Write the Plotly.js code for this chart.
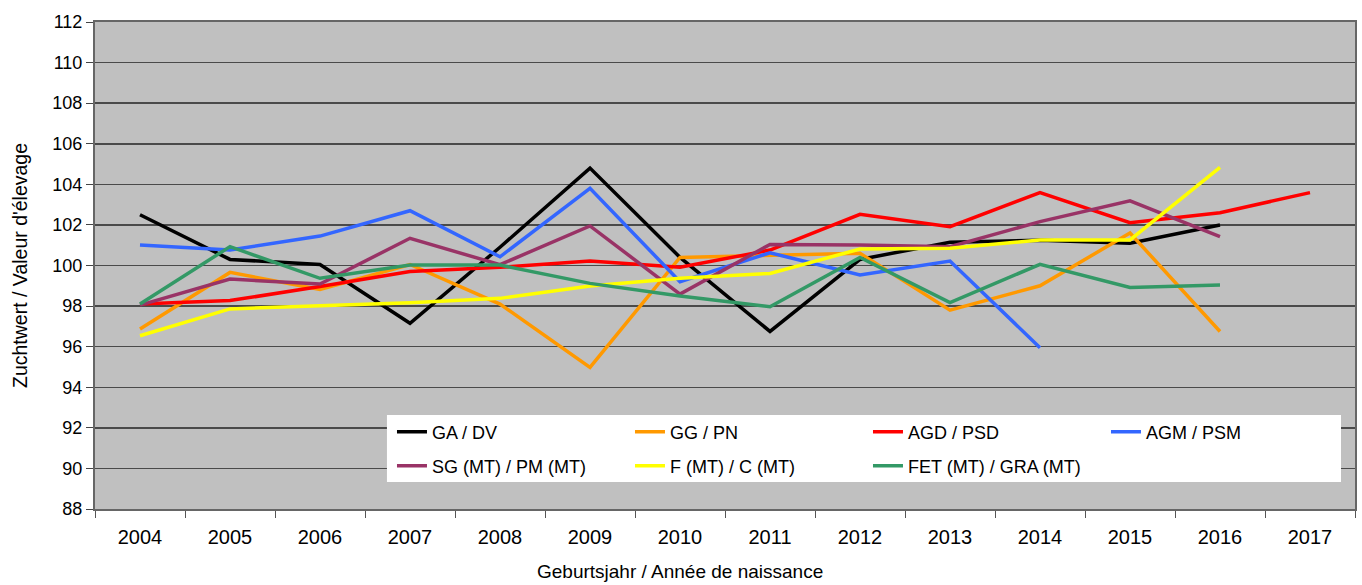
<!DOCTYPE html>
<html><head><meta charset="utf-8">
<script src="https://cdn.plot.ly/plotly-3.0.1.min.js"></script>
<style>html,body{margin:0;padding:0;background:#fff}#chart{width:1362px;height:585px}</style>
</head><body><div id="chart"></div>
<script>
const years = ['2004','2005','2006','2007','2008','2009','2010','2011','2012','2013','2014','2015','2016','2017'];
const seriesNames = ['GA / DV','GG / PN','AGD / PSD','AGM / PSM','SG (MT) / PM (MT)','F (MT) / C (MT)','FET (MT) / GRA (MT)'];
const xTitle = 'Geburtsjahr / Année de naissance';
const yTitle = "Zuchtwert / Valeur d'élevage";
const gaDv   = [102.5,100.3,100.05,97.15,100.9,104.8,100.4,96.75,100.3,101.15,101.25,101.1,102.0,null];
const ggPn   = [96.87,99.66,98.82,100.05,98.1,94.98,100.4,100.5,100.6,97.8,99.0,101.6,96.75,null];
const agdPsd = [98.1,98.27,98.96,99.7,99.91,100.22,99.91,100.76,102.52,101.91,103.59,102.11,102.6,103.59];
const agmPsm = [101.01,100.76,101.45,102.7,100.43,103.8,99.2,100.63,99.53,100.22,95.95,null,null,null];
const sgPm   = [98.05,99.33,99.09,101.34,100.04,101.95,98.59,101.04,101.01,100.93,102.16,103.19,101.42,null];
const fC     = [96.54,97.86,98.02,98.17,98.38,98.99,99.37,99.61,100.81,100.85,101.26,101.26,104.84,null];
const fetGra = [98.1,100.93,99.37,100.02,100.02,99.12,98.5,97.97,100.4,98.17,100.06,98.92,99.04,null];
const allSeries = [gaDv, ggPn, agdPsd, agmPsm, sgPm, fC, fetGra];
const colors = ['#000000','#FF9900','#FF0000','#3366FF','#993366','#FFFF00','#339966'];

const traces = allSeries.map((vals, i) => ({
  x: years, y: vals, type: 'scatter', mode: 'lines', name: seriesNames[i],
  legend: i < 4 ? 'legend' : 'legend2',
  line: {color: colors[i], width: 3.5}, connectgaps: false
}));

const legendFont = {family: 'Liberation Sans, Arial, sans-serif', size: 18, color: '#000'};
const legendBase = {
  orientation: 'h', xanchor: 'left', yanchor: 'middle',
  bgcolor: 'rgba(0,0,0,0)', borderwidth: 0,
  entrywidth: 193, entrywidthmode: 'pixels', itemwidth: 30,
  font: legendFont, traceorder: 'normal'
};

const layout = {
  width: 1362, height: 585,
  margin: {l: 95, r: 7, t: 22, b: 76},
  paper_bgcolor: '#ffffff', plot_bgcolor: '#c0c0c0',
  font: {family: 'Liberation Sans, Arial, sans-serif', color: '#000'},
  showlegend: true,
  legend: Object.assign({}, legendBase, {x: 0.2357, y: 0.1581}),
  legend2: Object.assign({}, legendBase, {x: 0.2357, y: 0.0883}),
  shapes: [{
    type: 'rect', xref: 'paper', yref: 'paper',
    x0: 0.2317, x1: 0.9889, y0: 0.0554, y1: 0.1930,
    fillcolor: '#ffffff', line: {width: 0}, layer: 'above'
  }],
  annotations: [{
    text: xTitle, xref: 'paper', yref: 'paper', x: 0.4643, y: -0.129,
    xanchor: 'center', yanchor: 'middle', showarrow: false,
    font: {size: 19, family: 'Liberation Sans, Arial, sans-serif', color: '#000'}
  }],
  xaxis: {
    type: 'category', range: [-0.5, 13.5], tickson: 'boundaries',
    ticks: 'outside', ticklen: 7, tickcolor: '#555', tickwidth: 1,
    ticklabelstandoff: 9,
    showgrid: false, showline: true, linecolor: '#666', linewidth: 2, mirror: true,
    tickfont: {size: 20, family: 'Liberation Sans, Arial, sans-serif'},
    automargin: false, fixedrange: true
  },
  yaxis: {
    range: [88, 112], dtick: 2, tick0: 88,
    ticks: 'outside', ticklen: 7, tickcolor: '#444', tickwidth: 1,
    showgrid: true, gridcolor: '#4a4a4a', gridwidth: 1.5,
    showline: true, linecolor: '#666', linewidth: 2, mirror: true,
    zeroline: false,
    tickfont: {size: 18, family: 'Liberation Sans, Arial, sans-serif'},
    title: {text: yTitle, font: {size: 19.5, family: 'Liberation Sans, Arial, sans-serif'}, standoff: 20},
    automargin: false, fixedrange: true
  }
};
Plotly.newPlot('chart', traces, layout, {displayModeBar: false, staticPlot: true});
</script></body></html>
